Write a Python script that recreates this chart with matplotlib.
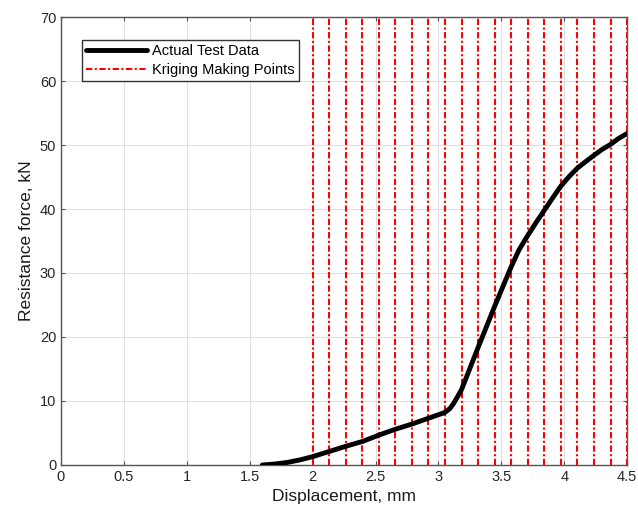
import numpy as np
import matplotlib.pyplot as plt

plt.rcParams['font.family'] = ['Liberation Sans', 'DejaVu Sans']

# actual test data (displacement mm, force kN)
disp = [1.6, 1.7, 1.8, 1.9, 2.0, 2.13, 2.26, 2.4, 2.53, 2.66, 2.79, 2.92, 3.05,
        3.09, 3.12, 3.15, 3.184, 3.316, 3.447, 3.5, 3.579, 3.64, 3.711, 3.78,
        3.842, 3.91, 3.974, 4.04, 4.105, 4.17, 4.237, 4.3, 4.368, 4.43, 4.5]
force = [0.0, 0.15, 0.4, 0.8, 1.3, 2.1, 2.9, 3.7, 4.7, 5.6, 6.4, 7.3, 8.2,
         8.8, 9.6, 10.6, 11.8, 18.4, 24.8, 27.3, 31.0, 33.6, 35.9, 38.0,
         39.8, 41.8, 43.6, 45.1, 46.4, 47.4, 48.4, 49.3, 50.1, 51.0, 51.8]

# kriging making points (x positions of the vertical lines)
kriging_x = [2.0, 2.132, 2.263, 2.395, 2.526, 2.658, 2.789, 2.921, 3.053, 3.184,
             3.316, 3.447, 3.579, 3.711, 3.842, 3.974, 4.105, 4.237, 4.368, 4.5]

xticks = [0, 0.5, 1, 1.5, 2, 2.5, 3, 3.5, 4, 4.5]
yticks = [0, 10, 20, 30, 40, 50, 60, 70]

fig = plt.figure(figsize=(6.38, 5.17), dpi=100)
ax = fig.add_axes([0.0956, 0.1006, 0.8874, 0.8665])

ax.plot(disp, force, color='black', lw=3.5, solid_capstyle='round',
        solid_joinstyle='round', label='Actual Test Data', zorder=3)
for i, kx in enumerate(kriging_x):
    ax.axvline(kx, color='red', lw=1.5, ls=(0, (3, 1.2, 1, 1.2)),
               label='Kriging Making Points' if i == 0 else None, zorder=2)

ax.set_xlim(0, 4.5)
ax.set_ylim(0, 70)
ax.set_xticks(xticks)
ax.set_xticklabels([f'{t:g}' for t in xticks])
ax.set_yticks(yticks)
ax.tick_params(direction='in', top=True, right=True, labelsize=10.5,
               length=3, color='#555555', labelcolor='#262626')
ax.grid(True, color='#e0e0e0', lw=0.8)
ax.set_axisbelow(True)
for sp in ax.spines.values():
    sp.set_color('#555555')
    sp.set_linewidth(1.0)

ax.set_xlabel('Displacement, mm', fontsize=12.5, color='#1a1a1a')
ax.set_ylabel('Resistance force, kN', fontsize=12.5, color='#1a1a1a')

leg = ax.legend(loc='upper left', bbox_to_anchor=(0.024, 0.965), fontsize=10.5,
                handlelength=4.2, fancybox=False, edgecolor='#333333',
                framealpha=1, borderpad=0.3, labelspacing=0.3, handletextpad=0.3)
leg.get_frame().set_linewidth(1.0)

fig.savefig('out.png', dpi=100)
